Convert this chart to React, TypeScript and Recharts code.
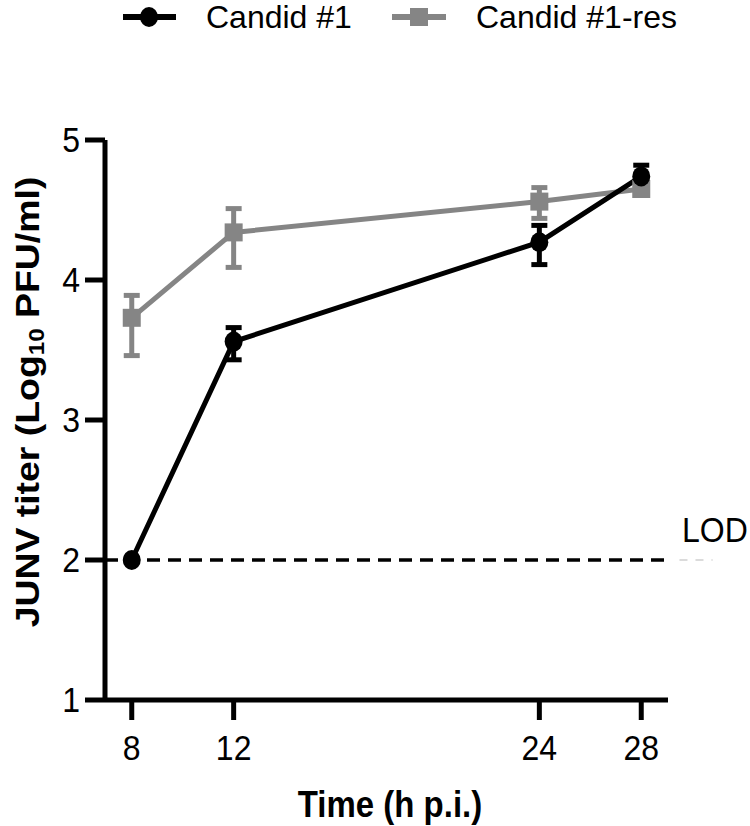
import { LineChart, Line, XAxis, YAxis, ErrorBar, ReferenceLine, Legend } from "recharts"

// time points (h p.i.)
const hours = [8, 12, 24, 28]
// Candid #1 mean titer + [below, above] error
const candid1 = [2.0, 3.56, 4.27, 4.74]
const candid1Err = [[0, 0], [0.13, 0.1], [0.16, 0.12], [0.08, 0.08]]
// Candid #1-res
const candid1Res = [3.73, 4.34, 4.56, 4.65]
const candid1ResErr = [[0.27, 0.16], [0.25, 0.17], [0.12, 0.1], [0.04, 0.04]]

const yTicks = [1, 2, 3, 4, 5]
const lod = 2
const seriesNames = ["Candid #1", "Candid #1-res"]
const colors = ["#000000", "#858585"]

const FONT = "'Liberation Sans', Arial, sans-serif"
const STRETCH = 1.1

const data = hours.map((h, i) => ({
  hour: h,
  c1: candid1[i],
  c1Err: candid1Err[i],
  res: candid1Res[i],
  resErr: candid1ResErr[i],
}))

const XTick = (props: any) => {
  const { x, payload } = props
  return (
    <text
      transform={`translate(${x},748) scale(1,${STRETCH})`}
      textAnchor="middle"
      dominantBaseline="central"
      fontSize={32}
      fontFamily={FONT}
      fill="#000"
    >
      {payload.value}
    </text>
  )
}

const YTick = (props: any) => {
  const { y, payload } = props
  return (
    <text
      transform={`translate(80,${y}) scale(1,${STRETCH})`}
      textAnchor="end"
      dominantBaseline="central"
      fontSize={32}
      fontFamily={FONT}
      fill="#000"
    >
      {payload.value}
    </text>
  )
}

const CircleDot = (p: any) => (
  <ellipse key={`c-${p.index}`} cx={p.cx} cy={p.cy} rx={9} ry={10} fill={colors[0]} />
)
const SquareDot = (p: any) => (
  <rect key={`s-${p.index}`} x={p.cx - 9} y={p.cy - 9} width={18} height={18} fill={colors[1]} />
)

// legend drawn by hand so the marker-on-line look matches the figure
const LegendBox = () => (
  <svg width={750} height={44} style={{ display: "block" }}>
    <line x1={123} x2={176} y1={17} y2={17} stroke={colors[0]} strokeWidth={6} />
    <ellipse cx={149} cy={17} rx={9} ry={10} fill={colors[0]} />
    <text x={206} y={28} fontSize={32} fontFamily={FONT}>
      {seriesNames[0]}
    </text>
    <line x1={392} x2={446} y1={17} y2={17} stroke={colors[1]} strokeWidth={6} />
    <rect x={410} y={8} width={18} height={18} fill={colors[1]} />
    <text x={476} y={28} fontSize={32} fontFamily={FONT}>
      {seriesNames[1]}
    </text>
  </svg>
)

export default function App() {
  return (
    <div style={{ position: "absolute", left: 0, top: 0, background: "#fff" }}>
      <LineChart
        width={750}
        height={826}
        data={data}
        margin={{ top: 96, right: 82, left: 0, bottom: 66 }}
      >
        <Legend
          verticalAlign="top"
          align="left"
          height={44}
          wrapperStyle={{ top: 0, left: 0 }}
          content={() => <LegendBox />}
        />
        <XAxis
          dataKey="hour"
          type="number"
          domain={[6.95, 29.05]}
          ticks={hours}
          height={60}
          axisLine={{ stroke: "#000", strokeWidth: 5 }}
          tickLine={{ stroke: "#000", strokeWidth: 5 }}
          tickSize={20}
          tick={<XTick />}
          label={{
            content: () => (
              <text
                transform={`translate(390,804) scale(1,${STRETCH})`}
                textAnchor="middle"
                dominantBaseline="central"
                fontSize={33}
                fontWeight="bold"
                fontFamily={FONT}
              >
                Time (h p.i.)
              </text>
            ),
          }}
        />
        <YAxis
          type="number"
          domain={[1, 5]}
          ticks={yTicks}
          width={105}
          axisLine={{ stroke: "#000", strokeWidth: 5 }}
          tickLine={{ stroke: "#000", strokeWidth: 5 }}
          tickSize={20}
          tick={<YTick />}
          label={{
            content: () => (
              <text
                transform={`translate(28,402) rotate(-90) scale(${STRETCH},1)`}
                textAnchor="middle"
                dominantBaseline="central"
                fontSize={34}
                fontWeight="bold"
                fontFamily={FONT}
              >
                JUNV titer (Log
                <tspan fontSize={22} dy={8}>10</tspan>
                <tspan dy={-8}> PFU/ml)</tspan>
              </text>
            ),
          }}
        />
        <ReferenceLine
          y={lod}
          stroke="#000"
          strokeWidth={3.5}
          strokeDasharray="13 8"
          label={{
            content: () => (
              <text
                transform={`translate(682,530) scale(1,${STRETCH})`}
                dominantBaseline="central"
                fontSize={32}
                fontFamily={FONT}
              >
                LOD
              </text>
            ),
          }}
        />
        <ReferenceLine
          segment={[{ x: 29.5, y: lod }, { x: 30.8, y: lod }]}
          ifOverflow="visible"
          stroke="#cfcfcf"
          strokeWidth={1.5}
          strokeDasharray="8 8"
        />
        <Line
          dataKey="res"
          name={seriesNames[1]}
          stroke={colors[1]}
          strokeWidth={5}
          dot={SquareDot}
          activeDot={false}
          isAnimationActive={false}
        >
          <ErrorBar dataKey="resErr" width={8} stroke={colors[1]} strokeWidth={5} />
        </Line>
        <Line
          dataKey="c1"
          name={seriesNames[0]}
          stroke={colors[0]}
          strokeWidth={5}
          dot={CircleDot}
          activeDot={false}
          isAnimationActive={false}
        >
          <ErrorBar dataKey="c1Err" width={8} stroke={colors[0]} strokeWidth={5} />
        </Line>
      </LineChart>
    </div>
  )
}
